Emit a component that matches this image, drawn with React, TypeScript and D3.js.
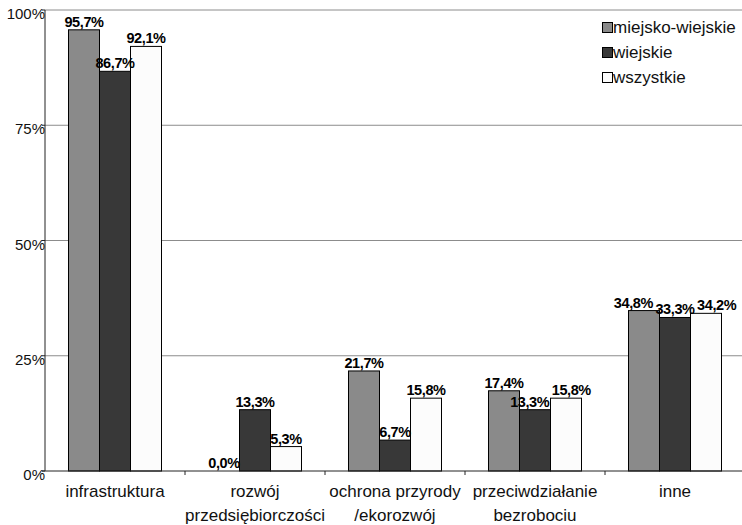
import React, { useEffect, useRef } from 'react';
import * as d3 from 'd3';

const categories = [
  ['infrastruktura'],
  ['rozwój', 'przedsiębiorczości'],
  ['ochrona przyrody', '/ekorozwój'],
  ['przeciwdziałanie', 'bezrobociu'],
  ['inne'],
];
const seriesNames = ['miejsko-wiejskie', 'wiejskie', 'wszystkie'];
const miejskoWiejskie = [95.7, 0.0, 21.7, 17.4, 34.8];
const wiejskie = [86.7, 13.3, 6.7, 13.3, 33.3];
const wszystkie = [92.1, 5.3, 15.8, 15.8, 34.2];
const yTicks = [0, 25, 50, 75, 100];

const colors = ['#8a8a8a', '#383838', '#fcfcfc'];

const App: React.FC = () => {
  const svgRef = useRef<SVGSVGElement | null>(null);
  const width = 742;
  const height = 525;

  useEffect(() => {
    if (!svgRef.current) return;
    const svg = d3.select(svgRef.current);
    svg.selectAll('*').remove();

    const margin = { top: 10, right: -3, bottom: 54, left: 45 };
    const font = '"Liberation Sans", Arial, sans-serif';
    const values = [miejskoWiejskie, wiejskie, wszystkie];

    const x = d3
      .scaleBand<number>()
      .domain(d3.range(categories.length))
      .range([margin.left, width - margin.right]);

    const xs = d3
      .scaleBand<number>()
      .domain(d3.range(seriesNames.length))
      .range([23.5, x.bandwidth() - 23.5]);

    const y = d3
      .scaleLinear()
      .domain([0, 100])
      .range([height - margin.bottom, margin.top]);

    // gridlines
    svg
      .append('g')
      .selectAll('line')
      .data(yTicks.filter((t) => t > 0))
      .join('line')
      .attr('x1', margin.left)
      .attr('x2', width)
      .attr('y1', (d) => y(d))
      .attr('y2', (d) => y(d))
      .attr('stroke', '#8c8c8c')
      .attr('stroke-width', 1);

    // y tick labels
    svg
      .append('g')
      .selectAll('text')
      .data(yTicks)
      .join('text')
      .attr('x', margin.left)
      .attr('y', (d) => y(d) + 9)
      .attr('text-anchor', 'end')
      .style('font-family', font)
      .style('font-size', '15px')
      .style('fill', '#111')
      .text((d) => `${d}%`);

    // bars
    const groups = svg
      .append('g')
      .selectAll('g')
      .data(categories.map((_, i) => i))
      .join('g')
      .attr('transform', (i) => `translate(${x(i)},0)`);

    groups
      .selectAll('rect')
      .data((i) => values.map((s, k) => ({ k, v: s[i] })))
      .join('rect')
      .attr('x', (d) => xs(d.k)!)
      .attr('y', (d) => y(d.v))
      .attr('width', xs.bandwidth())
      .attr('height', (d) => y(0) - y(d.v))
      .attr('fill', (d) => colors[d.k])
      .attr('stroke', (d) => (d.v > 0 ? '#000' : 'none'))
      .attr('stroke-width', 1);

    const labels = groups
      .selectAll('text')
      .data((i) => values.map((s, k) => ({ k, v: s[i] })))
      .join('text')
      .attr('x', (d) => xs(d.k)! + xs.bandwidth() / 2)
      .attr('y', (d) => y(d.v) - 3)
      .attr('text-anchor', 'middle')
      .style('font-family', font)
      .style('font-size', '14.5px')
      .style('font-weight', 'bold')
      .style('letter-spacing', '-0.4px')
      .style('fill', '#000')
      .text((d) => `${d.v.toFixed(1).replace('.', ',')}%`);

    // push apart labels that collide inside a group (like the original does)
    groups.each(function () {
      const nodes = d3.select(this).selectAll<SVGTextElement, unknown>('text').nodes();
      const boxes = nodes.map((n) => {
        const b = n.getBBox();
        return { n, x: b.x, y: b.y, w: b.width, h: b.height, dx: 0 };
      });
      for (let iter = 0; iter < 10; iter++) {
        for (let a = 0; a < boxes.length - 1; a++) {
          const p = boxes[a];
          const q = boxes[a + 1];
          const vOverlap = p.y < q.y + q.h && q.y < p.y + p.h;
          const gap = q.x + q.dx - (p.x + p.dx + p.w) - 2;
          if (vOverlap && gap < 0) {
            p.dx += gap / 2;
            q.dx -= gap / 2;
          }
        }
      }
      boxes.forEach((b) => {
        const cx = +d3.select(b.n).attr('x');
        d3.select(b.n).attr('x', cx + b.dx);
      });
    });
    labels.raise();

    // axes lines
    svg
      .append('line')
      .attr('x1', margin.left)
      .attr('x2', margin.left)
      .attr('y1', y(100))
      .attr('y2', y(0))
      .attr('stroke', '#222');

    svg
      .append('g')
      .selectAll('line')
      .data(yTicks)
      .join('line')
      .attr('x1', margin.left - 3)
      .attr('x2', margin.left)
      .attr('y1', (d) => y(d))
      .attr('y2', (d) => y(d))
      .attr('stroke', '#222');

    svg
      .append('line')
      .attr('x1', margin.left - 3)
      .attr('x2', width)
      .attr('y1', y(0))
      .attr('y2', y(0))
      .attr('stroke', '#222');

    // x ticks at category boundaries
    svg
      .append('g')
      .selectAll('line')
      .data(d3.range(1, categories.length))
      .join('line')
      .attr('x1', (i) => x(i)!)
      .attr('x2', (i) => x(i)!)
      .attr('y1', y(0))
      .attr('y2', y(0) + 4)
      .attr('stroke', '#222');

    // category labels
    const catLabels = svg
      .append('g')
      .selectAll('text')
      .data(categories.map((c, i) => ({ c, i })))
      .join('text')
      .attr('x', (d) => x(d.i)! + x.bandwidth() / 2)
      .attr('y', y(0) + 26)
      .attr('text-anchor', 'middle')
      .style('font-family', font)
      .style('font-size', '17px')
      .style('fill', '#111');

    catLabels
      .selectAll('tspan')
      .data((d) => d.c.map((line) => ({ line, cx: x(d.i)! + x.bandwidth() / 2 })))
      .join('tspan')
      .attr('x', (d) => d.cx)
      .attr('dy', (_, j) => (j === 0 ? 0 : 24))
      .text((d) => d.line);

    // legend
    const legend = svg
      .append('g')
      .attr('transform', 'translate(602,22)');

    const items = legend
      .selectAll('g')
      .data(seriesNames.map((n, k) => ({ n, k })))
      .join('g')
      .attr('transform', (d) => `translate(0,${d.k * 25})`);

    items
      .append('rect')
      .attr('x', 0.5)
      .attr('y', 0.5)
      .attr('width', 10)
      .attr('height', 10)
      .attr('fill', (d) => colors[d.k])
      .attr('stroke', '#000');

    items
      .append('text')
      .attr('x', 11)
      .attr('y', 11)
      .style('font-family', font)
      .style('font-size', '17px')
      .style('fill', '#111')
      .text((d) => d.n);
  }, []);

  return (
    <svg
      ref={svgRef}
      width={width}
      height={height}
      style={{ position: 'absolute', left: 0, top: 0, background: '#fff' }}
    ></svg>
  );
};

export default App;
